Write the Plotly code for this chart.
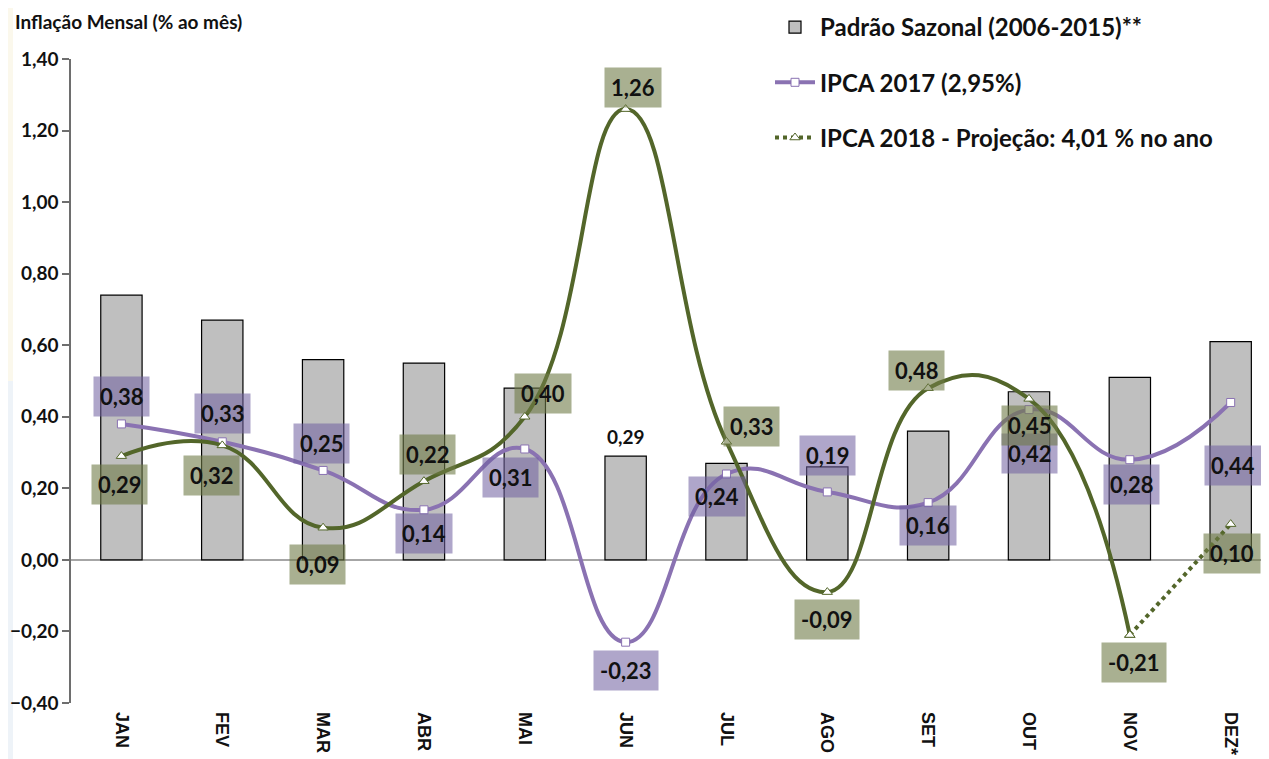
import plotly.graph_objects as go

months = ["JAN", "FEV", "MAR", "ABR", "MAI", "JUN", "JUL", "AGO", "SET", "OUT", "NOV", "DEZ*"]
sazonal = [0.74, 0.67, 0.56, 0.55, 0.48, 0.29, 0.27, 0.26, 0.36, 0.47, 0.51, 0.61]
ipca2017 = [0.38, 0.33, 0.25, 0.14, 0.31, -0.23, 0.24, 0.19, 0.16, 0.42, 0.28, 0.44]
ipca2018 = [0.29, 0.32, 0.09, 0.22, 0.40, 1.26, 0.33, -0.09, 0.48, 0.45, -0.21, 0.10]
n_realizado = 11  # JAN..NOV realizado; DEZ projeção

yticks = [-0.40, -0.20, 0.0, 0.20, 0.40, 0.60, 0.80, 1.00, 1.20, 1.40]

# label offsets (pixels) for data labels
off2017 = [(0, 27), (0, 28), (-2, 27), (0, -24), (-14, -29), (0, -28),
           (-9, -22), (0, 36), (0, -23), (0, -44), (2, -25), (2, -63)]
off2018 = [(-2, -28), (-11, -30), (-6, -37), (4, 27), (18, 23), (7, 22),
           (25, 15), (0, -27), (-12, 18), (0, -27), (4, -27), (1, -29)]

FONT = "Lato"
PURPLE = "#8A72B2"
OLIVE = "#53662A"

# figure sits in page with an 8px body margin
W, H = 1261, 751
ML, MT, MB, MR = 63, 51, 56, 0
PW = W - ML - MR
PH = H - MT - MB


def fmt(v):
    return f"{v:.2f}".replace(".", ",")


fig = go.Figure()

fig.add_trace(go.Bar(
    x=months, y=sazonal, name="Padrão Sazonal (2006-2015)**",
    marker=dict(color="#BFBFBF", line=dict(color="#000000", width=1.2)),
    width=0.41, legendgroup="a",
))

fig.add_trace(go.Scatter(
    x=months, y=ipca2017, name="IPCA 2017 (2,95%)", mode="lines+markers",
    line=dict(color=PURPLE, width=4, shape="spline", smoothing=1.3),
    marker=dict(symbol="square", size=8, color="white", line=dict(color=PURPLE, width=1)),
    legendgroup="b",
))

fig.add_trace(go.Scatter(
    x=months[:n_realizado], y=ipca2018[:n_realizado], name="IPCA 2018",
    mode="lines+markers", showlegend=False,
    line=dict(color=OLIVE, width=4, shape="spline", smoothing=1.3),
    marker=dict(symbol="triangle-up", size=9, color="white", line=dict(color=OLIVE, width=1)),
    legendgroup="c",
))

fig.add_trace(go.Scatter(
    x=months[n_realizado - 1:], y=ipca2018[n_realizado - 1:],
    name="IPCA 2018 - Projeção: 4,01 % no ano", mode="lines+markers",
    line=dict(color=OLIVE, width=4, dash="dot"),
    marker=dict(symbol="triangle-up", size=9, color="white", line=dict(color=OLIVE, width=1)),
    legendgroup="c",
))

annotations = []
for m, v, (dx, dy) in zip(months, ipca2017, off2017):
    annotations.append(dict(
        x=m, y=v, xref="x", yref="y", text=fmt(v), showarrow=False,
        xshift=dx, yshift=dy, bgcolor="rgba(112,96,160,0.56)", borderpad=6,
        font=dict(family=FONT, size=22, color="#111111", weight="bold"),
    ))
for m, v, (dx, dy) in zip(months, ipca2018, off2018):
    annotations.append(dict(
        x=m, y=v, xref="x", yref="y", text=fmt(v), showarrow=False,
        xshift=dx, yshift=dy, bgcolor="rgba(112,124,72,0.6)", borderpad=6,
        font=dict(family=FONT, size=22, color="#111111", weight="bold"),
    ))
# only JUN bar carries a label
annotations.append(dict(
    x=months[5], y=sazonal[5], xref="x", yref="y", text=fmt(sazonal[5]),
    showarrow=False, yshift=20,
    font=dict(family=FONT, size=19, color="#111111", weight="bold"),
))
annotations.append(dict(
    x=(13 - 8 - ML) / PW, y=1 + (MT - (21 - 8)) / PH, xref="paper", yref="paper",
    text="Inflação Mensal (% ao mês)", showarrow=False,
    xanchor="left", yanchor="middle",
    font=dict(family=FONT, size=19, color="#111111", weight="bold"),
))

fig.update_layout(
    width=W, height=H,
    margin=dict(l=ML, r=MR, t=MT, b=MB, autoexpand=False),
    paper_bgcolor="white", plot_bgcolor="white",
    separators=",.",
    showlegend=True,
    legend=dict(
        xref="container", yref="paper", x=(770 - 8) / W, y=1 + (MT + 3) / PH,
        xanchor="left", yanchor="top",
        font=dict(family=FONT, size=24, color="#111111", weight="bold"),
        bgcolor="rgba(0,0,0,0)", tracegroupgap=21, itemwidth=40,
        traceorder="grouped",
    ),
    annotations=annotations,
    shapes=[
        dict(type="rect", xref="paper", yref="paper", x0=-ML / PW, x1=(-ML + 5) / PW,
             y0=0.5, y1=1 + MT / PH, fillcolor="#FBF8EC", line=dict(width=0), layer="below"),
        dict(type="rect", xref="paper", yref="paper", x0=-ML / PW, x1=(-ML + 5) / PW,
             y0=-MB / PH, y1=0.5, fillcolor="#EEF3F8", line=dict(width=0), layer="below"),
    ],
)

fig.update_xaxes(
    range=[-0.5, 11.38], showgrid=False, showline=False, ticks="",
    tickangle=90, tickfont=dict(family="Liberation Sans", size=18, color="#111111", weight="bold"),
    ticklabelstandoff=8,
)
fig.update_yaxes(
    range=[-0.40, 1.40], tickvals=yticks, tickformat=".2f",
    showgrid=False, showline=True, linecolor="#6E6E6E", linewidth=1.5,
    ticks="outside", ticklen=7, tickcolor="#6E6E6E", tickwidth=1.5,
    zeroline=True, zerolinecolor="#A6A6A6", zerolinewidth=1.5,
    tickfont=dict(family=FONT, size=19, color="#111111", weight="bold"),
)

fig.write_html("out.html")
